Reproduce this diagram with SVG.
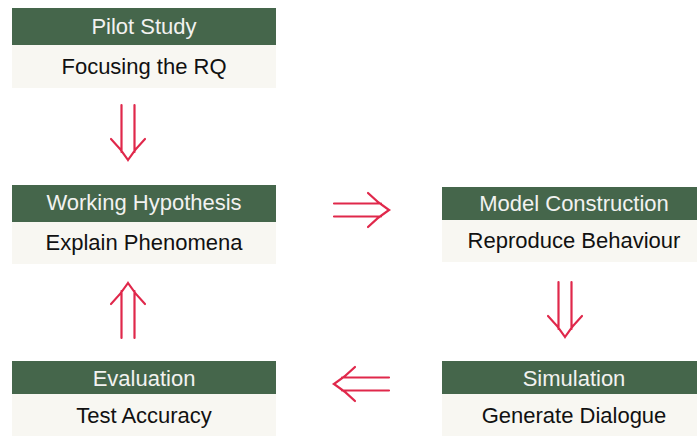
<svg xmlns="http://www.w3.org/2000/svg" xmlns:xlink="http://www.w3.org/1999/xlink" width="697" height="436" viewBox="0 0 697 436">
<style>
.hd{fill:#45664b}
.bd{fill:#f8f7f2}
.ht{font-family:"Liberation Sans",Arial,sans-serif;font-size:22px;fill:#f2f2f0;text-anchor:middle}
.bt{font-family:"Liberation Sans",Arial,sans-serif;font-size:22px;fill:#111;text-anchor:middle}
.ar{fill:none;stroke:#e0284b;stroke-width:2.2;stroke-linecap:round}
</style>
<defs>
<g id="dbl">
<path class="ar" d="M0,-6.5H47M0,6.5H47M34,-17Q44,-7 55,0Q44,7 34,17"/>
</g>
</defs>
<g id="pilot">
<rect class="hd" x="12" y="8" width="264" height="37"/>
<rect class="bd" x="12" y="45" width="264" height="43"/>
<text class="ht" x="144" y="34">Pilot Study</text>
<text class="bt" x="144" y="74">Focusing the RQ</text>
</g>
<g id="working">
<rect class="hd" x="12" y="185" width="264" height="37"/>
<rect class="bd" x="12" y="222" width="264" height="42"/>
<text class="ht" x="144" y="210">Working Hypothesis</text>
<text class="bt" x="144" y="250">Explain Phenomena</text>
</g>
<g id="model">
<rect class="hd" x="442" y="187" width="264" height="33"/>
<rect class="bd" x="442" y="220" width="264" height="42"/>
<text class="ht" x="574" y="211">Model Construction</text>
<text class="bt" x="574" y="248">Reproduce Behaviour</text>
</g>
<g id="evaluation">
<rect class="hd" x="12" y="361" width="264" height="33"/>
<rect class="bd" x="12" y="394" width="264" height="42"/>
<text class="ht" x="144" y="386">Evaluation</text>
<text class="bt" x="144" y="423">Test Accuracy</text>
</g>
<g id="simulation">
<rect class="hd" x="442" y="361" width="264" height="33"/>
<rect class="bd" x="442" y="394" width="264" height="42"/>
<text class="ht" x="574" y="386">Simulation</text>
<text class="bt" x="574" y="423">Generate Dialogue</text>
</g>
<g id="connectors">
<use xlink:href="#dbl" href="#dbl" transform="translate(128,105) rotate(90)"/>
<use xlink:href="#dbl" href="#dbl" transform="translate(334,210)"/>
<use xlink:href="#dbl" href="#dbl" transform="translate(565,282) rotate(90)"/>
<use xlink:href="#dbl" href="#dbl" transform="translate(389,384) rotate(180)"/>
<use xlink:href="#dbl" href="#dbl" transform="translate(128,338) rotate(-90)"/>
</g>
</svg>
